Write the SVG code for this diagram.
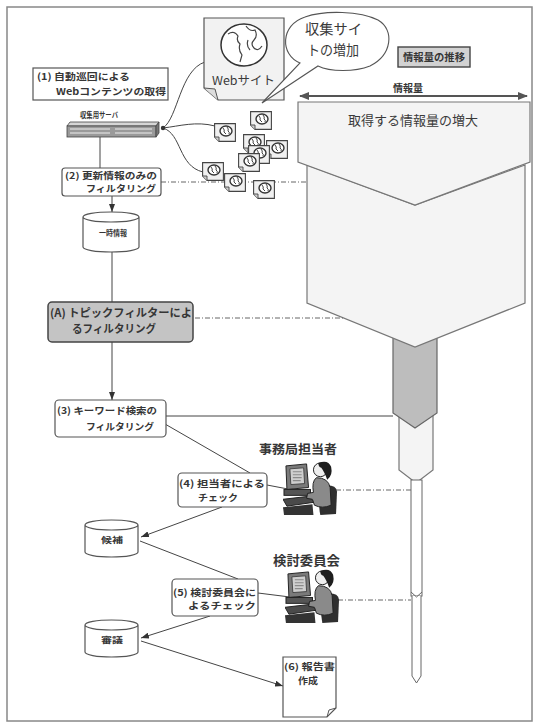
<svg xmlns="http://www.w3.org/2000/svg" width="536" height="725" viewBox="0 0 536 725">
<defs>
<style>
text{font-family:"Noto Sans CJK JP","Noto Sans",sans-serif;font-weight:bold;fill:#363636}
text.reg{font-weight:normal;fill:#3a3a3a}
.box{fill:#fff;stroke:#555;stroke-width:1.2}
.ln{fill:none;stroke:#454545;stroke-width:1}
.dash{fill:none;stroke:#666;stroke-width:1;stroke-dasharray:5 2 1 2}
.fun{fill:#f4f4f4;stroke:#777;stroke-width:1.2}
.cyl{fill:#fff;stroke:#555;stroke-width:1.2}
</style>
<marker id="arr" markerUnits="userSpaceOnUse" markerWidth="8" markerHeight="6" refX="8" refY="3" orient="auto">
<path d="M0,0 L8,3 L0,6 Z" fill="#333"/>
</marker>
<marker id="arr2" markerUnits="userSpaceOnUse" markerWidth="10" markerHeight="8" refX="9" refY="4" orient="auto-start-reverse">
<path d="M0,0 L10,4 L0,8 Z" fill="#555"/>
</marker>
<symbol id="page" viewBox="0 0 22 19">
<path d="M0.6,0.6 H21.4 V18.4 H5 L0.6,14 Z" fill="#f0f0f0" stroke="#444" stroke-width="1.1"/>
<path d="M0.6,14 L5,14 L5,18.4" fill="#cfcfcf" stroke="#444" stroke-width="0.9"/>
<ellipse cx="12" cy="8" rx="6" ry="5" fill="#fff" stroke="#333" stroke-width="1.4"/>
<path d="M9,5 Q11,7 10,9 L12,11 M13,4 Q15,6 14,8 Q16,9 15,11" fill="none" stroke="#444" stroke-width="1"/>
</symbol>
<symbol id="worker" viewBox="0 0 56 60">
<!-- monitor -->
<path d="M3,8 L24,6 L26,30 L4,32 Z" fill="#7a7a7a" stroke="#222"/>
<path d="M7,11 L21,10 L22,26 L8,27 Z" fill="#cfcfcf" stroke="#333" stroke-width="0.8"/>
<path d="M10,14 H19 M10,17 H19 M10,20 H19 M10,23 H18" stroke="#8a8a8a" stroke-width="1.2"/>
<rect x="1" y="32" width="27" height="6" fill="#555" stroke="#222"/>
<!-- keyboard and desk -->
<path d="M0,42 L26,39 L32,45 L4,49 Z" fill="#4a4a4a" stroke="#222"/>
<path d="M0,50 L30,47 L31,58 L1,58 Z" fill="#333"/>
<!-- chair -->
<path d="M40,28 Q54,26 55,34 L54,57 L38,58 Q35,45 40,28 Z" fill="#2f2f2f"/>
<!-- operator -->
<path d="M34,20 Q46,20 48,30 L49,48 Q40,52 32,48 L30,42 L24,41 L25,36 L31,35 Q29,24 34,20 Z" fill="#8a8a8a" stroke="#222"/>
<circle cx="38" cy="12" r="7" fill="#eee" stroke="#222"/>
<path d="M36,5 Q46,1 49,9 Q51,18 45,22 Q42,14 39,10 Q36,9 36,5 Z" fill="#1e1e1e"/>
</symbol>
</defs>

<rect width="536" height="725" fill="#fff"/>
<!-- frame -->
<rect x="7" y="7" width="525" height="714" fill="none" stroke="#888" stroke-width="1.5"/>

<!-- information volume gauge -->
<g id="volume-legend">
<rect x="398" y="47" width="72" height="20" fill="#d2d2d2" stroke="#444" stroke-width="1.4"/>
<text x="403" y="61" font-size="10" textLength="62" lengthAdjust="spacingAndGlyphs">情報量の推移</text>
<text x="393" y="92" font-size="10" textLength="30" lengthAdjust="spacingAndGlyphs">情報量</text>
<line x1="300" y1="96" x2="527" y2="96" stroke="#555" stroke-width="2" marker-start="url(#arr2)" marker-end="url(#arr2)"/>
</g>

<!-- funnel -->
<g id="funnel">
<polygon class="fun" points="399,405 433,405 433,470 416,483 399,470"/>
<polygon points="393,330 437,330 437,413 415,428 393,413" fill="#bdbdbd" stroke="#666" stroke-width="1.2"/>
<polygon class="fun" points="307,165 415,205 525,165 525,303 415,347 307,303"/>
<polygon class="fun" points="298,102 530,102 530,162 415,205 298,162"/>
<text class="reg" x="348" y="125" font-size="13" textLength="130" lengthAdjust="spacingAndGlyphs">取得する情報量の増大</text>
<rect x="411" y="480" width="11" height="116" fill="#fff" stroke="#666"/>
<path d="M412,596 V676 L416.5,683 L421,676 V596" fill="#fff" stroke="#666"/>
<path d="M411,592 L416.5,597 L422,592" fill="none" stroke="#666"/>
</g>

<!-- connectors -->
<g id="connectors">
<path class="ln" d="M163,128 C178,118 180,70 205,62"/>
<path class="ln" d="M163,128 C180,126 196,121 215,126"/>
<path class="ln" d="M163,128 C182,134 178,166 203,172"/>
<line class="ln" x1="100" y1="137" x2="100" y2="168"/>
<line class="dash" x1="161" y1="182" x2="307" y2="182"/>
<line class="ln" x1="112" y1="196" x2="112" y2="212" marker-end="url(#arr)"/>
<line class="ln" x1="112" y1="252" x2="112" y2="302"/>
<line class="dash" x1="195" y1="318" x2="345" y2="318"/>
<line class="ln" x1="112" y1="342" x2="112" y2="400" marker-end="url(#arr)"/>
<line class="ln" x1="166" y1="416" x2="393" y2="416"/>
<line class="ln" x1="165" y1="424" x2="250" y2="473"/>
<line class="ln" x1="267" y1="485" x2="288" y2="489"/>
<line class="dash" x1="336" y1="490" x2="411" y2="490"/>
<line class="ln" x1="222" y1="507" x2="141" y2="537" marker-end="url(#arr)"/>
<line class="ln" x1="140" y1="541" x2="238" y2="579"/>
<line class="ln" x1="258" y1="593" x2="290" y2="597"/>
<line class="dash" x1="338" y1="600" x2="411" y2="600"/>
<line class="ln" x1="210" y1="616" x2="141" y2="638" marker-end="url(#arr)"/>
<line class="ln" x1="141" y1="641" x2="283" y2="686" marker-end="url(#arr)"/>
</g>

<!-- web site -->
<g id="website">
<path d="M204,18 H284 V100 H218 L204,88 Z" fill="#f2f2f2" stroke="#555" stroke-width="1.2"/>
<path d="M204,88 L215,89 L218,100" fill="#ddd" stroke="#555"/>
<ellipse cx="244" cy="45" rx="23" ry="21" fill="#fff" stroke="#333" stroke-width="1.5"/>
<path d="M228,34 Q234,30 238,36 Q236,41 240,44 Q238,50 242,55 L240,62 M246,26 Q250,32 255,30 Q258,36 254,40 Q250,44 254,48 Q258,52 262,46 M248,40 Q246,46 250,50" fill="none" stroke="#444" stroke-width="1.2"/>
<text class="reg" x="212" y="85" font-size="12" textLength="63" lengthAdjust="spacingAndGlyphs">Webサイト</text>
</g>

<!-- speech balloon -->
<g id="balloon">
<path d="M300,63 C280,55 280,25 305,17 C325,10 360,11 378,20 C395,30 392,55 370,66 C355,72 330,72 318,66 L262,103 Z" fill="#fff" stroke="#555" stroke-width="1.1"/>
<text class="reg" x="305" y="34" font-size="14" textLength="57" lengthAdjust="spacingAndGlyphs">収集サイ</text>
<text class="reg" x="307" y="55" font-size="14" textLength="52" lengthAdjust="spacingAndGlyphs">トの増加</text>
</g>

<!-- collected pages -->
<g id="pages">
<use href="#page" x="250" y="111" width="22" height="19"/>
<use href="#page" x="214" y="123" width="22" height="19"/>
<use href="#page" x="243" y="134" width="22" height="19"/>
<use href="#page" x="266" y="140" width="22" height="19"/>
<use href="#page" x="248" y="145" width="22" height="19"/>
<use href="#page" x="238" y="153" width="22" height="19"/>
<use href="#page" x="202" y="162" width="22" height="19"/>
<use href="#page" x="224" y="173" width="22" height="19"/>
<use href="#page" x="253" y="180" width="22" height="19"/>
</g>

<!-- (1) crawler -->
<g id="step1">
<rect x="33" y="68" width="135" height="32" fill="#fff" stroke="#555" stroke-width="1.2"/>
<text x="37" y="80" font-size="9.5" textLength="93" lengthAdjust="spacingAndGlyphs">(1) 自動巡回による</text>
<text x="56" y="95" font-size="9.5" textLength="110" lengthAdjust="spacingAndGlyphs">Webコンテンツの取得</text>
</g>

<g id="server">
<text x="80" y="118" font-size="7.5" textLength="38" lengthAdjust="spacingAndGlyphs">収集用サーバ</text>
<path d="M70,122 H159 L156,126 H67 Z" fill="#d6d6d6" stroke="#444" stroke-width="0.8"/>
<rect x="67" y="126" width="89" height="11" fill="#9a9a9a" stroke="#444" stroke-width="0.8"/>
<path d="M156,126 L159,122 V133 L156,137 Z" fill="#777" stroke="#444" stroke-width="0.8"/>
<path d="M70,129 H110 M70,133 H110 M115,129 H152 M115,133 H152" stroke="#eee" stroke-width="1.2"/>
<circle cx="163" cy="128" r="2.2" fill="#333"/>
</g>

<g id="step2">
<rect class="box" x="62" y="168" width="99" height="28" rx="3"/>
<text x="65" y="178.5" font-size="9" textLength="92" lengthAdjust="spacingAndGlyphs">(2) 更新情報のみの</text>
<text x="86" y="192" font-size="9" textLength="70" lengthAdjust="spacingAndGlyphs">フィルタリング</text>
</g>

<g id="temp-store">
<path class="cyl" d="M83,217 V247 A28,5 0 0 0 139,247 V217 A28,5 0 0 0 83,217 A28,5 0 0 0 139,217"/>
<text x="99" y="236" font-size="7.5" textLength="28" lengthAdjust="spacingAndGlyphs">一時情報</text>
</g>

<g id="stepA">
<rect x="48" y="302" width="145" height="40" rx="4" fill="#c4c4c4" stroke="#444" stroke-width="1.5"/>
<text x="50" y="317" font-size="11" textLength="142" lengthAdjust="spacingAndGlyphs">(A) トピックフィルターによ</text>
<text x="72" y="333" font-size="11" textLength="84" lengthAdjust="spacingAndGlyphs">るフィルタリング</text>
</g>

<g id="step3">
<rect class="box" x="55" y="400" width="111" height="37" rx="4"/>
<text x="57" y="414" font-size="9.5" textLength="100" lengthAdjust="spacingAndGlyphs">(3) キーワード検索の</text>
<text x="86" y="430" font-size="9.5" textLength="68" lengthAdjust="spacingAndGlyphs">フィルタリング</text>
</g>

<g id="staff">
<text x="259" y="454" font-size="12.5" textLength="78" lengthAdjust="spacingAndGlyphs">事務局担当者</text>
<use href="#worker" x="283" y="458" width="55" height="59"/>
</g>

<g id="step4">
<rect class="box" x="178" y="473" width="89" height="34" rx="4"/>
<text x="179" y="487" font-size="9.5" textLength="86" lengthAdjust="spacingAndGlyphs">(4) 担当者による</text>
<text x="198" y="501" font-size="9.5" textLength="40" lengthAdjust="spacingAndGlyphs">チェック</text>
</g>

<g id="candidates">
<path class="cyl" d="M85,525 V552 A26.5,5 0 0 0 138,552 V525 A26.5,5 0 0 0 85,525 A26.5,5 0 0 0 138,525"/>
<text x="101" y="543" font-size="8" textLength="22" lengthAdjust="spacingAndGlyphs">候補</text>
</g>

<g id="committee">
<text x="273" y="565" font-size="13" textLength="67" lengthAdjust="spacingAndGlyphs">検討委員会</text>
<use href="#worker" x="285" y="566" width="55" height="59"/>
</g>

<g id="step5">
<rect class="box" x="172" y="579" width="86" height="37" rx="4"/>
<text x="173" y="596" font-size="9.5" textLength="83" lengthAdjust="spacingAndGlyphs">(5) 検討委員会に</text>
<text x="188" y="609" font-size="9.5" textLength="68" lengthAdjust="spacingAndGlyphs">よるチェック</text>
</g>

<g id="selected">
<path class="cyl" d="M85,625 V652 A26.5,5 0 0 0 138,652 V625 A26.5,5 0 0 0 85,625 A26.5,5 0 0 0 138,625"/>
<text x="101" y="643" font-size="8" textLength="22" lengthAdjust="spacingAndGlyphs">審議</text>
</g>

<g id="step6">
<path d="M283,657 H336 V708 L327,717 H283 Z" fill="#fff" stroke="#555" stroke-width="1.2"/>
<path d="M327,717 L329,710 L336,708" fill="none" stroke="#555"/>
<text x="284" y="670" font-size="9" textLength="51" lengthAdjust="spacingAndGlyphs">(6) 報告書</text>
<text x="298" y="684" font-size="9" textLength="20" lengthAdjust="spacingAndGlyphs">作成</text>
</g>
</svg>
